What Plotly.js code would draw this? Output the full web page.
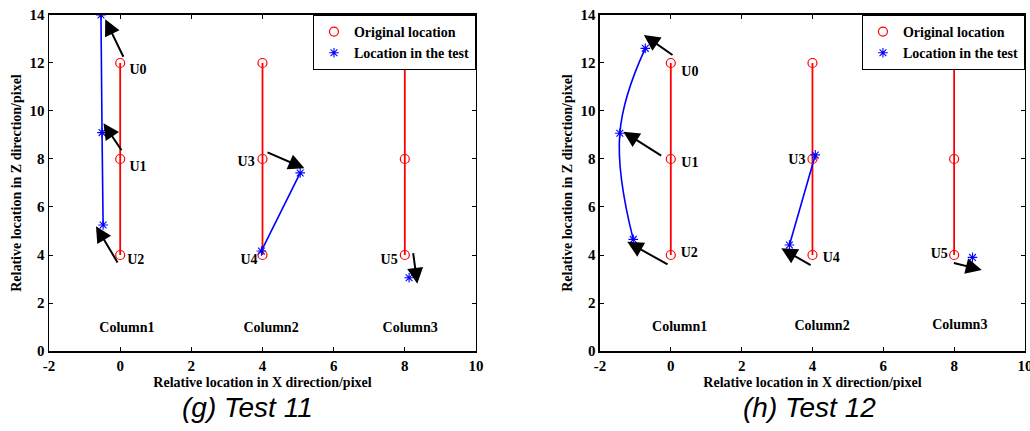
<!DOCTYPE html>
<html>
<head>
<meta charset="utf-8">
<script src="https://cdn.plot.ly/plotly-3.0.1.min.js"></script>
<style>html,body{margin:0;padding:0;background:#fff;}#chart{width:1030px;height:431px;}</style>
</head>
<body>
<div id="chart"></div>
<script>
// ---------- data ----------
const columnNames = ['Column1', 'Column2', 'Column3'];
const pointNames = ['U0', 'U1', 'U2', 'U3', 'U4', 'U5'];
// original locations (same in both tests)
const origX = [0, 0, 0, null, 4, 4, 4, null, 8, 8, 8];
const origZ = [12, 8, 4, null, 12, 8, 4, null, 12, 8, 4];

// Test 11 measured locations
const t11Col1X = [-0.54, -0.51, -0.48];
const t11Col1Z = [14, 9.1, 5.25];
const t11Col2X = [5.06, 3.97];
const t11Col2Z = [7.42, 4.17];
const t11Col3X = [8.12];
const t11Col3Z = [3.05];

// Test 12 measured locations
const t12Col1X = [-0.72, -1.44, -1.06];
const t12Col1Z = [12.61, 9.07, 4.65];
const t12Col2X = [4.08, 3.35];
const t12Col2Z = [8.17, 4.42];
const t12Col3X = [8.52];
const t12Col3Z = [3.9];

// displacement arrows: tail -> head
const t11ArrowTailX = [0.11, 0.065, -0.05, 4.1, 8.23];
const t11ArrowTailZ = [12.2, 8.30, 3.63, 8.30, 4.14];
const t11ArrowHeadX = [-0.42, -0.47, -0.68, 5.18, 8.35];
const t11ArrowHeadZ = [13.82, 9.49, 5.2, 7.61, 2.8];

const t12ArrowTailX = [0.09, -0.23, -0.05, 3.99, 7.95];
const t12ArrowTailZ = [12.29, 8.10, 3.57, 3.54, 3.68];
const t12ArrowHeadX = [-0.76, -1.34, -1.23, 3.12, 8.78];
const t12ArrowHeadZ = [13.17, 9.14, 4.55, 4.28, 3.38];

// point labels
const t11LabelX = [0.5, 0.5, 0.44, 3.54, 3.62, 7.56];
const t11LabelZ = [11.68, 7.63, 3.79, 7.85, 3.76, 3.76];
const t12LabelX = [0.54, 0.54, 0.52, 3.56, 4.53, 7.58];
const t12LabelZ = [11.6, 7.82, 4.07, 7.93, 3.86, 4.0];

// column labels
const t11ColLabelX = [0.19, 4.24, 8.15];
const t11ColLabelZ = [0.94, 0.94, 0.94];
const t12ColLabelX = [0.25, 4.27, 8.16];
const t12ColLabelZ = [0.97, 1.01, 1.05];

const xTicks = [-2, 0, 2, 4, 6, 8, 10];
const zTicks = [0, 2, 4, 6, 8, 10, 12, 14];
const captions = ['(g) Test 11', '(h) Test 12'];
const xTitle = 'Relative location in X direction/pixel';
const zTitle = 'Relative location in Z direction/pixel';

// ---------- styles ----------
const SERIF = 'Liberation Serif, Times New Roman, serif';
const RED = '#ff0000', BLUE = '#0000ff';
const circle = {symbol: 'circle-open', size: 9, color: RED, line: {width: 1.2, color: RED}};
const star = {symbol: 'asterisk-open', size: 8, color: BLUE, line: {width: 1.1, color: BLUE}};
const labelFont = {family: SERIF, size: 14, color: '#000', weight: 'bold'};

function panel(xa, ya, legendId, c1x, c1z, c2x, c2z, c3x, c3z, shape1, lx, lz, cx, cz) {
  const tr = [];
  tr.push({x: origX, y: origZ, xaxis: xa, yaxis: ya, mode: 'lines', line: {color: RED, width: 1.8},
           showlegend: false, hoverinfo: 'skip', connectgaps: false});
  tr.push({x: c1x, y: c1z, xaxis: xa, yaxis: ya, mode: 'lines', line: {color: BLUE, width: 1.6, shape: shape1, smoothing: 1.2},
           showlegend: false, hoverinfo: 'skip'});
  tr.push({x: c2x, y: c2z, xaxis: xa, yaxis: ya, mode: 'lines', line: {color: BLUE, width: 1.6},
           showlegend: false, hoverinfo: 'skip'});
  tr.push({x: origX, y: origZ, xaxis: xa, yaxis: ya, mode: 'markers', marker: circle,
           name: 'Original location', legend: legendId});
  tr.push({x: c1x.concat([null], c2x, [null], c3x), y: c1z.concat([null], c2z, [null], c3z),
           xaxis: xa, yaxis: ya, mode: 'markers', marker: star,
           name: 'Location in the test', legend: legendId});
  tr.push({x: lx, y: lz, text: pointNames, xaxis: xa, yaxis: ya, mode: 'text',
           textfont: labelFont, showlegend: false, hoverinfo: 'skip'});
  tr.push({x: cx, y: cz, text: columnNames, xaxis: xa, yaxis: ya, mode: 'text',
           textfont: labelFont, showlegend: false, hoverinfo: 'skip'});
  return tr;
}

const traces = [].concat(
  panel('x', 'y', 'legend', t11Col1X, t11Col1Z, t11Col2X, t11Col2Z, t11Col3X, t11Col3Z, 'spline',
        t11LabelX, t11LabelZ, t11ColLabelX, t11ColLabelZ),
  panel('x2', 'y2', 'legend2', t12Col1X, t12Col1Z, t12Col2X, t12Col2Z, t12Col3X, t12Col3Z, 'spline',
        t12LabelX, t12LabelZ, t12ColLabelX, t12ColLabelZ)
);

function arrows(xr, yr, tx, tz, hx, hz) {
  return hx.map((_, i) => ({
    xref: xr, yref: yr, axref: xr, ayref: yr,
    x: hx[i], y: hz[i], ax: tx[i], ay: tz[i],
    showarrow: true, arrowhead: 2, arrowsize: 1.6, arrowwidth: 2, arrowcolor: '#000',
    text: '', standoff: 0, startstandoff: 0
  }));
}

const tickFont = {family: SERIF, size: 15, color: '#000', weight: 'bold'};
const titleFont = {family: SERIF, size: 14, color: '#000', weight: 'bold'};
function xaxis(domain, anchor) {
  return {domain: domain, anchor: anchor, range: [-2, 10], tickvals: xTicks, ticktext: xTicks.map(String),
    ticks: 'inside', ticklen: 4, tickcolor: '#000', tickwidth: 1, showline: true, linecolor: '#000', linewidth: 1.5,
    mirror: 'ticks', showgrid: false, zeroline: false, tickfont: tickFont, ticklabeloverflow: 'allow',
    title: {text: xTitle, font: titleFont, standoff: 4}};
}
function yaxis(anchor) {
  return {domain: [0.1856, 0.9652], anchor: anchor, range: [0, 14], tickvals: zTicks, ticktext: zTicks.map(String),
    ticks: 'inside', ticklen: 4, tickcolor: '#000', tickwidth: 1, showline: true, linecolor: '#000', linewidth: 1.5,
    mirror: 'ticks', showgrid: false, zeroline: false, tickfont: tickFont, ticklabeloverflow: 'allow',
    title: {text: zTitle, font: titleFont, standoff: 4}};
}

const legendStyle = {bgcolor: '#fff', bordercolor: '#000', borderwidth: 1,
  font: {family: SERIF, size: 14, color: '#000', weight: 'bold'},
  xref: 'paper', yref: 'paper', xanchor: 'right', yanchor: 'top', y: 0.9652, tracegroupgap: 0, itemwidth: 30};

const captionFont = {family: 'Liberation Sans, Arial, sans-serif', size: 28, style: 'italic', color: '#000'};

const layout = {
  width: 1030, height: 431,
  margin: {l: 0, r: 0, t: 0, b: 0},
  paper_bgcolor: '#fff', plot_bgcolor: '#fff',
  xaxis: xaxis([0.0476, 0.4621], 'y'),
  yaxis: yaxis('x'),
  xaxis2: xaxis([0.5825, 0.9951], 'y2'),
  yaxis2: yaxis('x2'),
  legend: Object.assign({}, legendStyle, {x: 0.4621}),
  legend2: Object.assign({}, legendStyle, {x: 0.9951}),
  annotations: [].concat(
    arrows('x', 'y', t11ArrowTailX, t11ArrowTailZ, t11ArrowHeadX, t11ArrowHeadZ),
    arrows('x2', 'y2', t12ArrowTailX, t12ArrowTailZ, t12ArrowHeadX, t12ArrowHeadZ),
    [
      {xref: 'paper', yref: 'paper', x: 0.24, y: 0.0534, xanchor: 'center', yanchor: 'middle', showarrow: false,
       text: captions[0], font: captionFont},
      {xref: 'paper', yref: 'paper', x: 0.786, y: 0.0534, xanchor: 'center', yanchor: 'middle', showarrow: false,
       text: captions[1], font: captionFont}
    ]
  ),
  showlegend: true
};

Plotly.newPlot('chart', traces, layout, {displayModeBar: false, staticPlot: true});
</script>
</body>
</html>
